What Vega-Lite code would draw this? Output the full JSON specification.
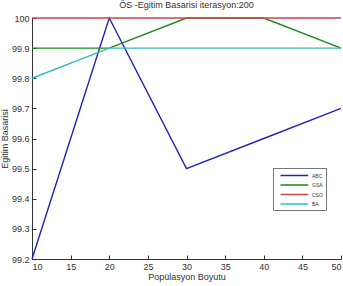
{
  "$schema": "https://vega.github.io/schema/vega-lite/v6.json",
  "autosize": "none",
  "width": 309,
  "height": 241,
  "padding": {"left": 32, "top": 18, "right": 2, "bottom": 27},
  "background": "white",
  "config": {
    "view": {"stroke": null},
    "font": "Liberation Sans",
    "axis": {"grid": false, "domainColor": "#333", "tickColor": "#333", "labelColor": "#333", "titleColor": "#333", "labelFont": "Liberation Sans", "titleFont": "Liberation Sans", "labelFontSize": 9, "titleFontSize": 9, "titleFontWeight": "normal", "tickSize": -4, "labelPadding": 7}
  },
  "title": {"text": "ÖS  -Egitim Basarisi iterasyon:200", "fontSize": 9, "fontWeight": "normal", "color": "#333", "font": "Liberation Sans", "offset": 4},
  "data": {"values": [
    {"x": 10, "y": 99.2, "alg": "ABC"},
    {"x": 20, "y": 100, "alg": "ABC"},
    {"x": 30, "y": 99.5, "alg": "ABC"},
    {"x": 40, "y": 99.6, "alg": "ABC"},
    {"x": 50, "y": 99.7, "alg": "ABC"},
    {"x": 10, "y": 99.9, "alg": "GSA"},
    {"x": 20, "y": 99.9, "alg": "GSA"},
    {"x": 30, "y": 100, "alg": "GSA"},
    {"x": 40, "y": 100, "alg": "GSA"},
    {"x": 50, "y": 99.9, "alg": "GSA"},
    {"x": 10, "y": 100, "alg": "CSO"},
    {"x": 20, "y": 100, "alg": "CSO"},
    {"x": 30, "y": 100, "alg": "CSO"},
    {"x": 40, "y": 100, "alg": "CSO"},
    {"x": 50, "y": 100, "alg": "CSO"},
    {"x": 10, "y": 99.8, "alg": "BA"},
    {"x": 20, "y": 99.9, "alg": "BA"},
    {"x": 30, "y": 99.9, "alg": "BA"},
    {"x": 40, "y": 99.9, "alg": "BA"},
    {"x": 50, "y": 99.9, "alg": "BA"}
  ]},
  "mark": {"type": "line", "strokeWidth": 1.4, "clip": false},
  "encoding": {
    "x": {"field": "x", "type": "quantitative", "scale": {"domain": [10, 50], "nice": false, "zero": false}, "axis": {"values": [10, 15, 20, 25, 30, 35, 40, 45, 50], "title": "Popülasyon Boyutu", "titlePadding": 1}},
    "y": {"field": "y", "type": "quantitative", "scale": {"domain": [99.2, 100], "nice": false, "zero": false}, "axis": {"values": [99.2, 99.3, 99.4, 99.5, 99.6, 99.7, 99.8, 99.9, 100], "format": ".1~f", "title": "Egitim Basarisi", "titlePadding": 2}},
    "color": {"field": "alg", "type": "nominal", "sort": ["ABC", "GSA", "CSO", "BA"],
      "scale": {"domain": ["ABC", "GSA", "CSO", "BA"], "range": ["#2222bb", "#1a8a1a", "#cc4444", "#33bbbb"]},
      "legend": {"title": null, "orient": "none", "legendX": 241, "legendY": 150, "symbolType": "M0,0H7.4", "symbolSize": 56, "symbolStrokeWidth": 1.5, "labelFontSize": 5, "labelOffset": 27, "labelColor": "#333", "rowPadding": 1.5, "padding": 3, "strokeColor": "#777", "fillColor": "white", "labelLimit": 40}},
    "strokeWidth": {"condition": {"test": "datum.alg === 'ABC'", "value": 2}, "value": 1.3}
  }
}
